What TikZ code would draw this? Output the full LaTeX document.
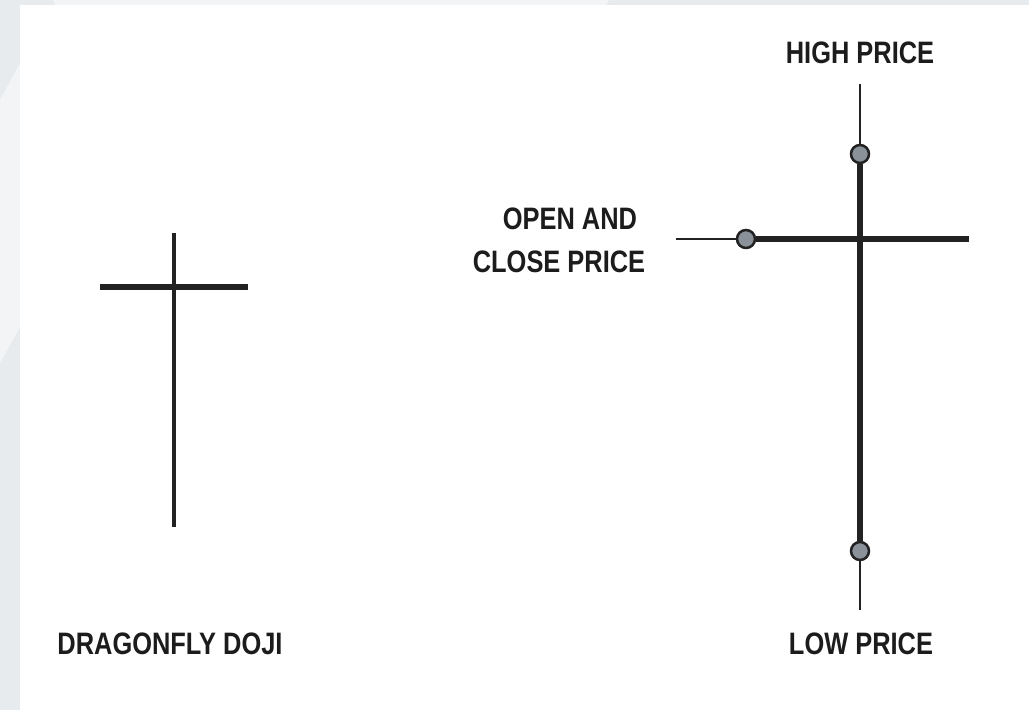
\documentclass[tikz,border=0pt]{standalone}
\usepackage{fontspec}
\setmainfont{Liberation Sans}[FakeStretch=0.82,UprightFont=* Bold]
\definecolor{bgedge}{HTML}{E7EBEE}
\definecolor{bglight}{HTML}{F2F4F6}
\definecolor{ink}{HTML}{222222}
\definecolor{dotfill}{HTML}{8A9198}
\definecolor{txt}{HTML}{1C1C1C}
\begin{document}
\begin{tikzpicture}[x=1pt,y=-1pt,
  lbl/.style={inner sep=0pt, anchor=base, text=txt, font=\fontsize{31}{36}\selectfont},
  thickline/.style={draw=ink, line width=6pt},
  thinline/.style={draw=ink, line width=2.2pt},
  pricedot/.style={circle, draw=ink, fill=dotfill, line width=2.5pt, minimum size=18pt, inner sep=0pt}]
\useasboundingbox (0,0) rectangle (1029,710);
% background
\fill[bgedge] (0,0) rectangle (1029,710);
\fill[bglight] (0,100) -- (20,63) -- (20,327) -- (0,363) -- cycle;
\fill[bglight] (53,0) -- (609,0) -- (606,5) -- (55,5) -- cycle;
\fill[white] (20,5) rectangle (1029,710);
% left doji
\coordinate (lt) at (174,233);
\coordinate (lb) at (174,527);
\coordinate (ll) at (100,287);
\coordinate (lr) at (248,287);
\draw[ink, line width=4.5pt] (lt) -- (lb);
\draw[ink, line width=6pt] (ll) -- (lr);
% right doji
\coordinate (rtop) at (860,84);
\coordinate (rbot) at (860,610);
\coordinate (hl) at (676,239);
\coordinate (hr) at (969,239);
\node[pricedot] (hi) at (860,154) {};
\node[pricedot] (lo) at (860,551) {};
\node[pricedot] (oc) at (746,239) {};
\path[thickline] (hi) -- (lo);
\path[thickline] (oc) -- (hr);
\path[thinline] (rtop) -- (hi);
\path[thinline] (lo) -- (rbot);
\path[thinline] (hl) -- (oc);
% labels
\node[lbl] (high) at (860,63) {HIGH PRICE};
\node[lbl] (open) at (570,229) {OPEN AND};
\node[lbl] (close) at (559,272) {CLOSE PRICE};
\node[lbl] (low) at (861,654) {LOW PRICE};
\node[lbl] (name) at (170,654) {DRAGONFLY DOJI};
\end{tikzpicture}
\end{document}
